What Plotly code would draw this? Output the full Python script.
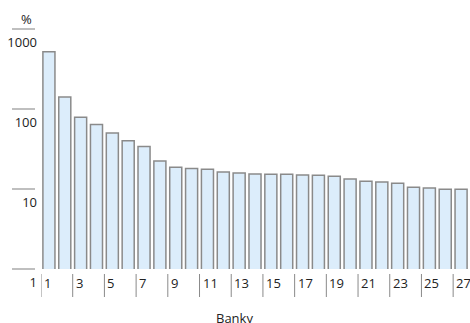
import math
import plotly.graph_objects as go

banks = list(range(1, 28))
share = [520, 141, 79, 64, 50, 40, 34, 22.4, 18.7, 18.1, 17.6, 16.3, 15.8, 15.4,
         15.3, 15.3, 15.0, 14.9, 14.4, 13.3, 12.5, 12.2, 11.8, 10.5, 10.3, 9.9, 9.9]
y_ticks = [1, 10, 100, 1000]
x_labels = [1, 3, 5, 7, 9, 11, 13, 15, 17, 19, 21, 23, 25, 27]

FONT = "Open Sans, Noto Sans, sans-serif"
FS = 13
TXT = "#222222"

W, H = 470, 323
L, T, R, B = 41, 29, 1, 54
pw = W - L - R
ph = H - T - B

fig = go.Figure(go.Bar(
    x=banks, y=share,
    marker=dict(color="#dcedfb", line=dict(color="#8a8a8a", width=1.5)),
))

shapes = []
# short lines at the y tick values, left of the plot
for v in y_ticks:
    yp = math.log10(v) / 3
    shapes.append(dict(type="line", xref="paper", yref="paper",
                       x0=-29 / pw, x1=-6 / pw, y0=yp, y1=yp,
                       line=dict(color="#aaaaaa", width=1.5)))
# vertical marks before the x labels
annotations = []
for b in x_labels:
    shapes.append(dict(type="line", xref="x", yref="paper",
                       x0=b - 0.5, x1=b - 0.5, y0=-5 / ph, y1=-28 / ph,
                       line=dict(color="#8a8a8a", width=1)))
    annotations.append(dict(x=b - 0.5, y=0, xref="x", yref="paper",
                            text=str(b), showarrow=False, xanchor="left",
                            yanchor="top", xshift=1, yshift=-3,
                            font=dict(family=FONT, size=FS, color=TXT)))

annotations.append(dict(x=-22 / pw, y=1, xref="paper", yref="paper", text="%",
                        showarrow=False, yanchor="bottom", yshift=-1,
                        font=dict(family=FONT, size=FS, color=TXT)))
annotations.append(dict(x=(234 - 41) / pw, y=-49 / ph, xref="paper", yref="paper",
                        text="Banky", showarrow=False, yanchor="middle",
                        font=dict(family=FONT, size=FS, color=TXT)))

fig.update_layout(
    width=W, height=H,
    margin=dict(l=L, r=R, t=T, b=B, autoexpand=False),
    paper_bgcolor="white", plot_bgcolor="white",
    bargap=0.24, showlegend=False,
    font=dict(family=FONT, size=FS, color=TXT),
    shapes=shapes, annotations=annotations,
)
fig.update_xaxes(range=[0.5, 27.5], showticklabels=False, showgrid=False,
                 zeroline=False, showline=False, ticks="")
fig.update_yaxes(type="log", range=[0, 3], tickvals=y_ticks,
                 ticktext=[str(v) for v in y_ticks], showgrid=False,
                 zeroline=False, showline=False, ticks="",
                 ticklabelshift=13, ticklabelstandoff=3)

# drop the default page margin so the 470x323 figure fills the window
fig.write_html("out.html", config={"displayModeBar": False},
               post_script="document.body.style.margin='0';"
               "document.body.style.overflow='hidden';")
